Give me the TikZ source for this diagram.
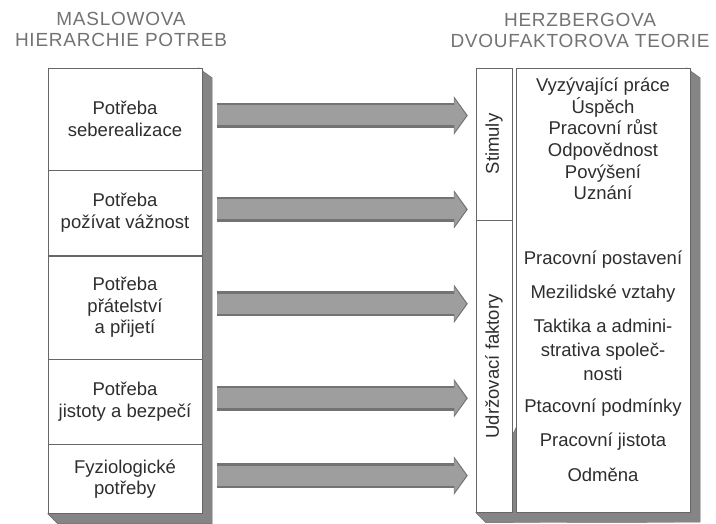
\documentclass[tikz,border=0pt]{standalone}
\usepackage{fontspec}
\setmainfont{Liberation Sans}
\usetikzlibrary{positioning,arrows.meta,backgrounds}
\definecolor{ink}{gray}{0.18}
\definecolor{edge}{gray}{0.40}
\definecolor{slab}{gray}{0.52}
\definecolor{band}{gray}{0.62}
\definecolor{rim}{gray}{0.45}
\newcommand\rowfont{\fontsize{18.5}{21.5}\selectfont}
\newcommand\capsfont{\fontsize{19}{21}\selectfont\addfontfeature{LetterSpace=4}}

\begin{document}
\begin{tikzpicture}[x=1pt,y=-1pt,
    every node/.style={text=ink,font=\rowfont},
    row/.style={draw=edge,fill=white,inner sep=0pt,align=center,minimum width=154pt},
    side/.style={fill=slab,draw=slab!80!black,line width=0.4pt},
    flow/.style={line width=25pt,draw=rim,shorten >=8pt,
      -{Triangle[width=38pt,length=14pt]},
      postaction={draw=band,line width=20pt,shorten >=9.5pt,
        -{Triangle[width=33pt,length=12pt]}}},
    heading/.style={font=\capsfont,text=black!55,align=center}]
  \useasboundingbox (0,0) rectangle (716,524);
  % Headings
  \node[heading] (maslow) at (121,29) {MASLOWOVA\\HIERARCHIE POTREB};
  \node[heading] (herz) at (580,30) {HERZBERGOVA\\DVOUFAKTOROVA TEORIE};
  % Left column: the five needs
  \node[row,minimum height=102pt] (need1) at (125,119) {Potřeba\\seberealizace};
  \node[row,minimum height=85pt,below=0pt of need1] (need2) {Potřeba\\požívat vážnost};
  \node[row,minimum height=103pt,below=0pt of need2] (need3) {Potřeba\\přátelství\\a přijetí};
  \node[row,minimum height=85pt,below=0pt of need3] (need4) {Potřeba\\jistoty a bezpečí};
  \node[row,minimum height=69pt,below=0pt of need4] (need5) {Fyziologické\\potřeby};
  % Right column: two factor groups
  \node[row,minimum width=36pt,minimum height=152pt] (stim) at (494,144) {};
  \node[row,minimum width=36pt,minimum height=292pt,below=0pt of stim] (udr) {};
  \node[rotate=90] (stimtext) at (stim) {Stimuly};
  \node[rotate=90] (udrtext) at (udr) {Udržovací faktory};
  \node[row,minimum width=174pt,minimum height=444pt] (main) at (603,290) {};
  % Thickness of the boxes
  \begin{scope}[on background layer]
    \fill[side] ([xshift=-4pt]need1.north east) -- ([xshift=10pt,yshift=-10pt]need1.north east)
      -- ([xshift=10pt,yshift=-10pt]need5.south east)
      -- ([xshift=10pt,yshift=-10pt]need5.south west) -- (need5.south west) -- cycle;
    \fill[side] ([xshift=-4pt]main.north east) -- ([xshift=10pt,yshift=-10pt]main.north east)
      -- ([xshift=10pt,yshift=-10pt]main.south east)
      -- ([xshift=10pt,yshift=-10pt]udr.south west) -- (udr.south west) -- cycle;
  \end{scope}
  % Factor lists
  \node[align=center,font=\fontsize{18.5}{21.6}\selectfont] (motiv) at (603,139)
    {Vyzývající práce\\Úspěch\\Pracovní růst\\Odpovědnost\\Povýšení\\Uznání};
  \foreach \y/\t [count=\k] in {260/Pracovní postavení,294/Mezilidské vztahy,
      350/{Taktika a admini-\\strativa společ-\\nosti},408/Ptacovní podmínky,
      442/Pracovní jistota,475/Odměna}
    \node[align=center,font=\fontsize{18.5}{24}\selectfont] (care\k) at (603,\y) {\t};
  % Arrows from needs to factors
  \foreach \i/\g in {1/stim,2/stim,3/udr,4/udr,5/udr}{
    \coordinate (in\i) at ([yshift=3.5pt]need\i.east);
    \draw[flow] ([xshift=15pt]in\i) -- (in\i -| \g.west);
  }
\end{tikzpicture}
\end{document}
